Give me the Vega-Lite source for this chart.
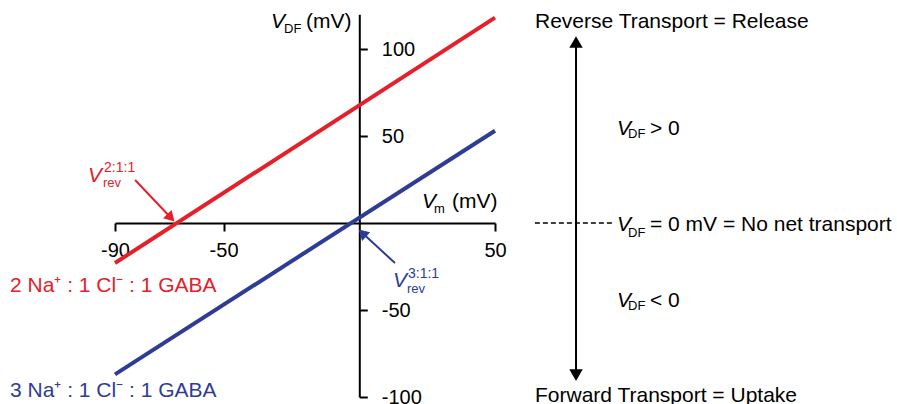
{
  "$schema": "https://vega.github.io/schema/vega-lite/v6.json",
  "width": 897,
  "height": 404,
  "autosize": {"type": "none"},
  "padding": 0,
  "background": "white",
  "config": {
    "view": {"stroke": null},
    "text": {"font": "Liberation Sans"}
  },
  "datasets": {
    "lines": [
      {"series": "2:1:1", "x": -90, "y": -23},
      {"series": "2:1:1", "x": 50, "y": 118},
      {"series": "3:1:1", "x": -90, "y": -87},
      {"series": "3:1:1", "x": 50, "y": 53}
    ],
    "arrows": [
      {"arrow": "red", "series": "2:1:1", "x": -82.6, "y": 24.7, "x2": -69.4, "y2": 3.0},
      {"arrow": "blue", "series": "3:1:1", "x": 13.15, "y": -23.0, "x2": 1.14, "y2": -5.8},
      {"arrow": "transport", "series": "note", "x": 79.85, "y": 104.0, "x2": 79.85, "y2": -87.4}
    ],
    "heads": [
      {"head": "red", "series": "2:1:1", "x": -69.4, "y": 3.0},
      {"head": "blue", "series": "3:1:1", "x": 1.14, "y": -5.8},
      {"head": "up", "series": "note", "x": 79.85, "y": 104.0},
      {"head": "down", "series": "note", "x": 79.85, "y": -87.4}
    ],
    "zero": [
      {"series": "note", "x": 64.7, "x2": 93.5, "y": 0}
    ],
    "italicV": [
      {"text": "V", "x": -32.53, "y": 112.07, "series": "note"},
      {"text": "V", "x": 23.1, "y": 8.62, "series": "note"},
      {"text": "V", "x": -99.96, "y": 23.56, "series": "2:1:1"},
      {"text": "V", "x": 12.42, "y": -36.78, "series": "3:1:1"},
      {"text": "V", "x": 94.94, "y": 50.57, "series": "note"},
      {"text": "V", "x": 94.94, "y": -4.6, "series": "note"},
      {"text": "V", "x": 94.94, "y": -48.28, "series": "note"}
    ],
    "subs": [
      {"text": "DF", "x": -27.74, "y": 109.2, "series": "note"},
      {"text": "m", "x": 27.52, "y": 5.75, "series": "note"},
      {"text": "rev", "x": -94.43, "y": 20.69, "series": "2:1:1"},
      {"text": "rev", "x": 17.57, "y": -40.23, "series": "3:1:1"},
      {"text": "DF", "x": 99.0, "y": 48.85, "series": "note"},
      {"text": "DF", "x": 99.0, "y": -8.05, "series": "note"},
      {"text": "DF", "x": 99.0, "y": -50.0, "series": "note"}
    ],
    "sups": [
      {"text": "2:1:1", "x": -94.04, "y": 29.31, "series": "2:1:1"},
      {"text": "3:1:1", "x": 17.94, "y": -31.61, "series": "3:1:1"}
    ],
    "plain": [
      {"text": "(mV)", "x": -19.64, "y": 112.07, "series": "note"},
      {"text": "(mV)", "x": 34.15, "y": 8.62, "series": "note"},
      {"text": "2 Na⁺ : 1 Cl⁻ : 1 GABA", "x": -128.7, "y": -39.66, "series": "2:1:1"},
      {"text": "3 Na⁺ : 1 Cl⁻ : 1 GABA", "x": -128.7, "y": -100.0, "series": "3:1:1"},
      {"text": "Reverse Transport = Release", "x": 64.73, "y": 112.07, "series": "note"},
      {"text": "Forward Transport = Uptake", "x": 64.73, "y": -102.87, "series": "note"},
      {"text": "> 0", "x": 107.1, "y": 50.57, "series": "note"},
      {"text": "= 0 mV = No net transport", "x": 107.1, "y": -4.6, "series": "note"},
      {"text": "< 0", "x": 107.1, "y": -48.28, "series": "note"}
    ]
  },
  "layer": [
    {
      "data": {"name": "lines"},
      "mark": {"type": "line", "strokeWidth": 4},
      "encoding": {
        "x": {
          "field": "x", "type": "quantitative",
          "scale": {"domain": [-90, 50], "range": [115, 495], "nice": false, "zero": false},
          "axis": {
            "orient": "bottom", "offset": -181, "values": [-90, -50, 50], "title": null, "grid": false,
            "domainColor": "black", "domainWidth": 2, "tickColor": "black", "tickWidth": 2, "tickSize": 8,
            "labelFont": "Liberation Sans", "labelFontSize": 20, "labelColor": "black", "labelPadding": 9,
            "labelFlush": false, "labelExpr": "'' + datum.value"
          }
        },
        "y": {
          "field": "y", "type": "quantitative",
          "scale": {"domain": [-100, 120], "range": [397, 14.2], "nice": false, "zero": false},
          "axis": {
            "orient": "right", "offset": -537.7, "values": [100, 50, -50, -100], "title": null, "grid": false,
            "domainColor": "black", "domainWidth": 2, "tickColor": "black", "tickWidth": 2, "tickSize": 8,
            "labelFont": "Liberation Sans", "labelFontSize": 20, "labelColor": "black", "labelPadding": 14,
            "labelFlush": false, "labelExpr": "'' + datum.value"
          }
        },
        "color": {
          "field": "series", "type": "nominal",
          "scale": {"domain": ["2:1:1", "3:1:1", "note"], "range": ["#e5202a", "#2e3c96", "#000000"]},
          "legend": null
        }
      }
    },
    {
      "data": {"name": "arrows"},
      "mark": {"type": "rule", "strokeWidth": 2},
      "encoding": {
        "x": {"field": "x", "type": "quantitative"},
        "y": {"field": "y", "type": "quantitative"},
        "x2": {"field": "x2"},
        "y2": {"field": "y2"},
        "color": {"field": "series", "type": "nominal"}
      }
    },
    {
      "data": {"name": "zero"},
      "mark": {"type": "rule", "strokeWidth": 1.5, "strokeDash": [5, 3]},
      "encoding": {
        "x": {"field": "x", "type": "quantitative"},
        "x2": {"field": "x2"},
        "y": {"field": "y", "type": "quantitative"},
        "color": {"field": "series", "type": "nominal"}
      }
    },
    {
      "data": {"name": "heads"},
      "transform": [{"filter": "datum.head == 'red'"}],
      "mark": {"type": "point", "shape": "triangle-up", "filled": true, "opacity": 1, "angle": 136, "size": 140},
      "encoding": {
        "x": {"field": "x", "type": "quantitative"},
        "y": {"field": "y", "type": "quantitative"},
        "color": {"field": "series", "type": "nominal"}
      }
    },
    {
      "data": {"name": "heads"},
      "transform": [{"filter": "datum.head == 'blue'"}],
      "mark": {"type": "point", "shape": "triangle-up", "filled": true, "opacity": 1, "angle": 313, "size": 140},
      "encoding": {
        "x": {"field": "x", "type": "quantitative"},
        "y": {"field": "y", "type": "quantitative"},
        "color": {"field": "series", "type": "nominal"}
      }
    },
    {
      "data": {"name": "heads"},
      "transform": [{"filter": "datum.head == 'up'"}],
      "mark": {"type": "point", "shape": "triangle-up", "filled": true, "opacity": 1, "size": 180},
      "encoding": {
        "x": {"field": "x", "type": "quantitative"},
        "y": {"field": "y", "type": "quantitative"},
        "color": {"field": "series", "type": "nominal"}
      }
    },
    {
      "data": {"name": "heads"},
      "transform": [{"filter": "datum.head == 'down'"}],
      "mark": {"type": "point", "shape": "triangle-down", "filled": true, "opacity": 1, "size": 180},
      "encoding": {
        "x": {"field": "x", "type": "quantitative"},
        "y": {"field": "y", "type": "quantitative"},
        "color": {"field": "series", "type": "nominal"}
      }
    },
    {
      "data": {"name": "italicV"},
      "mark": {"type": "text", "align": "left", "baseline": "alphabetic", "fontSize": 21, "fontStyle": "italic", "font": "Liberation Sans"},
      "encoding": {
        "x": {"field": "x", "type": "quantitative"},
        "y": {"field": "y", "type": "quantitative"},
        "text": {"field": "text"},
        "color": {"field": "series", "type": "nominal"}
      }
    },
    {
      "data": {"name": "subs"},
      "mark": {"type": "text", "align": "left", "baseline": "alphabetic", "fontSize": 13, "font": "Liberation Sans"},
      "encoding": {
        "x": {"field": "x", "type": "quantitative"},
        "y": {"field": "y", "type": "quantitative"},
        "text": {"field": "text"},
        "color": {"field": "series", "type": "nominal"}
      }
    },
    {
      "data": {"name": "sups"},
      "mark": {"type": "text", "align": "left", "baseline": "alphabetic", "fontSize": 14, "font": "Liberation Sans"},
      "encoding": {
        "x": {"field": "x", "type": "quantitative"},
        "y": {"field": "y", "type": "quantitative"},
        "text": {"field": "text"},
        "color": {"field": "series", "type": "nominal"}
      }
    },
    {
      "data": {"name": "plain"},
      "mark": {"type": "text", "align": "left", "baseline": "alphabetic", "fontSize": 21, "font": "Liberation Sans"},
      "encoding": {
        "x": {"field": "x", "type": "quantitative"},
        "y": {"field": "y", "type": "quantitative"},
        "text": {"field": "text"},
        "color": {"field": "series", "type": "nominal"}
      }
    }
  ]
}
